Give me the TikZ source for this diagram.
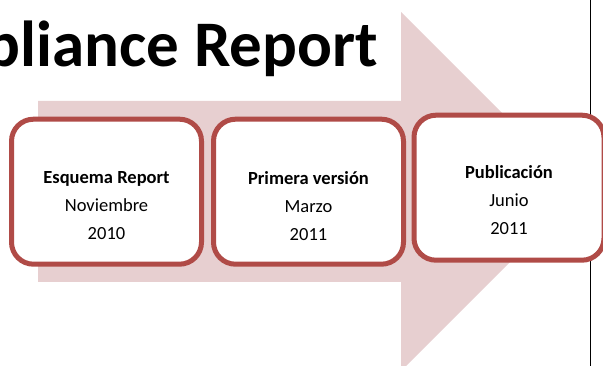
\documentclass[tikz,border=0pt]{standalone}
\usepackage{fontspec}
\setmainfont{Carlito}
\usetikzlibrary{positioning}

\definecolor{hitored}{RGB}{176,75,71}
\definecolor{flechapink}{RGB}{231,207,208}

\tikzset{
	hito/.style={draw=hitored, line width=5pt, fill=white, rounded corners=22pt,
		minimum width=190pt, minimum height=145pt},
	fecha/.style={align=center, inner sep=0pt, font=\fontsize{18.5}{28}\selectfont},
}

\begin{document}
\begin{tikzpicture}[x=1pt, y=-1pt]
		\useasboundingbox (0,0) rectangle (603,366);
		\clip (0,0) rectangle (603,366);

		% big arrow behind the boxes
		\fill[flechapink] (38,101) -- (401,101) -- (401,12) -- (580.5,191.5)
			-- (401,371) -- (401,282) -- (38,282) -- cycle;

		\coordinate (ltop) at (590.5,0);
		\coordinate (lbot) at (590.5,366);
		\draw[line width=1.5pt] (ltop) -- (lbot);

		\node[hito] (esquema) at (106.5,191.7) {};
		\node[hito, right=7pt of esquema] (primera) {};
		\node[hito, right=5.5pt of primera, yshift=4pt] (publica) {};

		\node[fecha] (esquematxt) at ([yshift=-14pt]esquema.center) {\textbf{Esquema Report}\\Noviembre\\2010};
		\node[fecha] (primeratxt) at ([yshift=-14pt]primera.center) {\textbf{Primera versión}\\Marzo\\2011};
		\node[fecha] (publicatxt) at ([yshift=-12pt]publica.center) {\textbf{Publicación}\\Junio\\2011};

		\node[anchor=base east, inner sep=0pt, font=\fontsize{65}{65}\selectfont\bfseries] (titulo)
			at (378,67) {Compliance Report};
\end{tikzpicture}
\end{document}
